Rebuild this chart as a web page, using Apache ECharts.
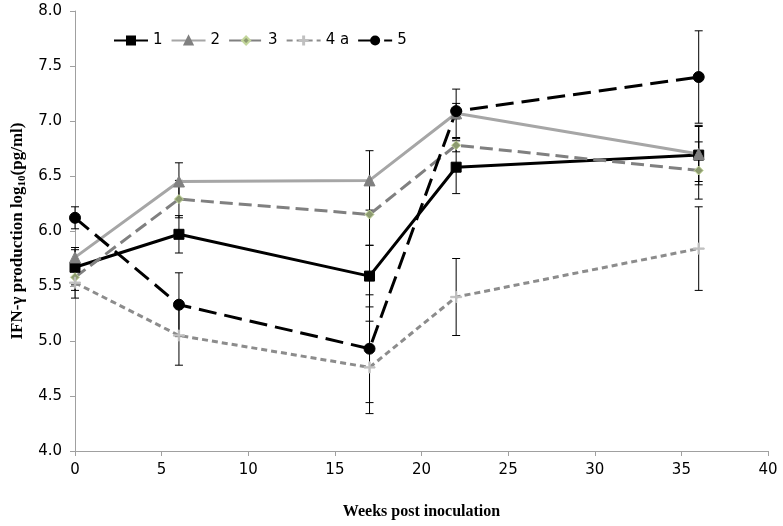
<!DOCTYPE html>
<html>
<head>
<meta charset="utf-8">
<script src="https://cdn.jsdelivr.net/npm/echarts@6/dist/echarts.min.js"></script>
<style>html,body{margin:0;padding:0;background:#fff;}#c{width:783px;height:526px;}</style>
</head>
<body>
<div id="c"></div>
<script>
var weeks = [0, 6, 17, 22, 36];
var names = ['1', '2', '3', '4 a', '5'];
var s1 = [5.67, 5.97, 5.59, 6.58, 6.69];
var s2 = [5.76, 6.45, 6.46, 7.07, 6.70];
var s3 = [5.58, 6.29, 6.15, 6.78, 6.55];
var s4 = [5.53, 5.05, 4.76, 5.40, 5.84];
var s5 = [6.12, 5.33, 4.93, 7.09, 7.40];
var e1 = [0.16, 0.17, 0.28, 0.24, 0.27];
var e2 = [0.09, 0.17, 0.27, 0.22, 0.25];
var e3 = [0.12, 0.17, 0.28, 0.06, 0.26];
var e4 = [0.14, 0.27, 0.42, 0.35, 0.38];
var e5 = [0.10, 0.29, 0.49, 0.07, 0.42];

var vals = [s1, s2, s3, s4, s5];
var errs = [e1, e2, e3, e4, e5];

function pts(v) { return weeks.map(function (w, i) { return [w, v[i]]; }); }

var errData = [];
for (var k = 0; k < 5; k++) {
  for (var i = 0; i < weeks.length; i++) errData.push([weeks[i], vals[k][i], errs[k][i]]);
}

var plus = 'path://M0,4.4H4.4V0H5.6V4.4H10V5.6H5.6V10H4.4V5.6H0Z';

var styles = [
  {color: '#000', width: 3, type: 'solid', symbol: 'rect', size: 10, mcolor: '#000', mborder: '#000'},
  {color: '#a6a6a6', width: 3, type: 'solid', symbol: 'triangle', size: 11, mcolor: '#808080', mborder: '#808080'},
  {color: '#808080', width: 3, type: [13, 6], symbol: 'diamond', size: 9, mcolor: '#8c9a70', mborder: '#c3d69b'},
  {color: '#8c8c8c', width: 3, type: [6, 4], symbol: plus, size: 11, mcolor: '#c0c0c0', mborder: '#c0c0c0'},
  {color: '#000', width: 3, type: [18, 8], symbol: 'circle', size: 11, mcolor: '#000', mborder: '#000'}
];

var series = [{
  type: 'custom',
  name: 'err',
  z: 3,
  data: errData,
  renderItem: function (params, api) {
    var x = api.value(0), y = api.value(1), e = api.value(2);
    var top = api.coord([x, y + e]);
    var bot = api.coord([x, y - e]);
    var st = {stroke: '#000', lineWidth: 1};
    return {
      type: 'group',
      children: [
        {type: 'line', shape: {x1: top[0], y1: top[1], x2: bot[0], y2: bot[1]}, style: st},
        {type: 'line', shape: {x1: top[0] - 4, y1: top[1], x2: top[0] + 4, y2: top[1]}, style: st},
        {type: 'line', shape: {x1: bot[0] - 4, y1: bot[1], x2: bot[0] + 4, y2: bot[1]}, style: st}
      ]
    };
  },
  silent: true
}];

for (var k = 0; k < 5; k++) {
  var s = styles[k];
  series.push({
    type: 'line',
    name: names[k],
    data: pts(vals[k]),
    z: 4,
    symbol: s.symbol,
    symbolSize: s.size,
    showAllSymbol: true,
    lineStyle: {color: s.color, width: s.width, type: s.type},
    itemStyle: {color: s.mcolor, borderColor: s.mborder, borderWidth: 1},
    emphasis: {disabled: true},
    animation: false
  });
}

var chart = echarts.init(document.getElementById('c'));
chart.setOption({
  animation: false,
  backgroundColor: '#fff',
  grid: {left: 75, right: 15, top: 11, bottom: 75},
  legend: {
    data: names,
    left: 108,
    top: 28,
    itemWidth: 34,
    itemHeight: 10,
    itemGap: 8,
    textStyle: {fontFamily: 'DejaVu Sans', fontSize: 15, color: '#000'}
  },
  xAxis: {
    type: 'value', min: 0, max: 40, interval: 5,
    name: 'Weeks post inoculation',
    nameLocation: 'middle',
    nameGap: 53,
    nameTextStyle: {fontFamily: 'Liberation Serif', fontWeight: 'bold', fontSize: 16, color: '#000'},
    axisLine: {lineStyle: {color: '#a0a0a0', width: 1}},
    axisTick: {show: true, length: 5, lineStyle: {color: '#a0a0a0'}},
    axisLabel: {fontFamily: 'DejaVu Sans', fontSize: 15, color: '#000', margin: 12},
    splitLine: {show: false}
  },
  yAxis: {
    type: 'value', min: 4, max: 8, interval: 0.5,
    name: 'IFN-γ production log{sub|10}(pg/ml)',
    nameLocation: 'middle',
    nameGap: 46,
    nameRotate: 90,
    nameTextStyle: {
      fontFamily: 'Liberation Serif', fontWeight: 'bold', fontSize: 17, color: '#000',
      rich: {sub: {fontFamily: 'Liberation Serif', fontWeight: 'bold', fontSize: 11, color: '#000', verticalAlign: 'bottom', padding: [8, 0, 0, 0]}}
    },
    axisLine: {show: true, lineStyle: {color: '#a0a0a0', width: 1}},
    axisTick: {show: true, length: 5, lineStyle: {color: '#a0a0a0'}},
    axisLabel: {fontFamily: 'DejaVu Sans', fontSize: 15, color: '#000', margin: 13,
      formatter: function (v) { return v.toFixed(1); }},
    splitLine: {show: false}
  },
  series: series
});
</script>
</body>
</html>
